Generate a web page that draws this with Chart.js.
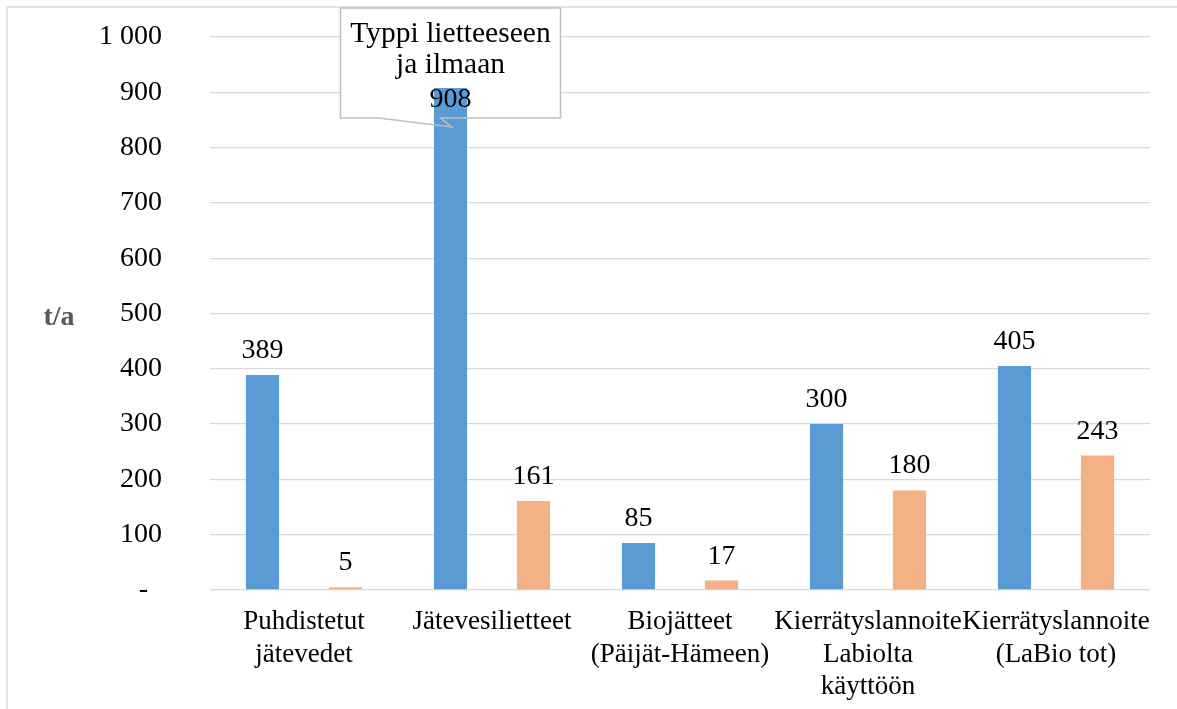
<!DOCTYPE html>
<html>
<head>
<meta charset="utf-8">
<script src="https://cdn.jsdelivr.net/npm/chart.js@4.4.1/dist/chart.umd.min.js"></script>
<style>
  html, body { margin: 0; padding: 0; background: #ffffff; }
  #wrap { position: relative; width: 1177px; height: 709px; }
</style>
</head>
<body>
<div id="wrap"><canvas id="c" width="1177" height="709"></canvas></div>
<script>
// Typpivirrat, t/a
const categories = [
  ['Puhdistetut', 'jätevedet'],
  ['Jätevesilietteet'],
  ['Biojätteet', '(Päijät-Hämeen)'],
  ['Kierrätyslannoite', 'Labiolta', 'käyttöön'],
  ['Kierrätyslannoite', '(LaBio tot)']
];
const seriesBlue = [389, 908, 85, 300, 405];
const seriesOrange = [5, 161, 17, 180, 243];
const yTicks = [0, 100, 200, 300, 400, 500, 600, 700, 800, 900, 1000];
const axisTitle = 't/a';
const calloutLines = ['Typpi lietteeseen', 'ja ilmaan'];

const SERIF = '"Liberation Serif", "Times New Roman", serif';

function fmt(v) {
  if (v === 0) return '-  ';
  return String(v).replace(/\B(?=(\d{3})+(?!\d))/g, ' ');
}

// chart frame, axis title, value labels and the callout box
const decor = {
  id: 'decor',
  beforeDraw(chart) {
    const ctx = chart.ctx;
    ctx.save();
    ctx.strokeStyle = '#d9d9d9';
    ctx.lineWidth = 1.5;
    ctx.beginPath();
    ctx.moveTo(7, 720);
    ctx.lineTo(7, 7);
    ctx.lineTo(1190, 7);
    ctx.stroke();
    ctx.fillStyle = '#595959';
    ctx.font = 'bold 28px ' + SERIF;
    ctx.textAlign = 'center';
    ctx.textBaseline = 'middle';
    ctx.fillText(axisTitle, 59, 318);
    ctx.restore();
  },
  beforeDatasetsDraw(chart) {
    const ctx = chart.ctx;
    const bar = chart.getDatasetMeta(0).data[1];
    ctx.save();
    ctx.fillStyle = '#ffffff';
    ctx.fillRect(bar.x - 110, 8, 220, 110);
    ctx.restore();
  },
  afterDatasetsDraw(chart) {
    const ctx = chart.ctx;
    ctx.save();
    ctx.font = '28px ' + SERIF;
    ctx.fillStyle = '#000000';
    ctx.textAlign = 'center';
    ctx.textBaseline = 'alphabetic';
    chart.data.datasets.forEach((ds, di) => {
      chart.getDatasetMeta(di).data.forEach((el, i) => {
        if (di === 0 && i === 1) return;
        ctx.fillText(fmt(ds.data[i]), el.x, el.y - 17);
      });
    });
    // callout for the largest bar
    const bar = chart.getDatasetMeta(0).data[1];
    const L = bar.x - 110, R = bar.x + 110, T = 8, B = 118;
    const tipX = bar.x + 1, tipY = bar.y + 39;
    ctx.strokeStyle = '#bfbfbf';
    ctx.lineWidth = 1.5;
    ctx.beginPath();
    ctx.moveTo(L, T);
    ctx.lineTo(R, T);
    ctx.lineTo(R, B);
    ctx.lineTo(bar.x - 10, B);
    ctx.lineTo(tipX, tipY);
    ctx.lineTo(L + 38, B);
    ctx.lineTo(L, B);
    ctx.closePath();
    ctx.stroke();
    ctx.font = '29.5px ' + SERIF;
    ctx.fillText(calloutLines[0], bar.x, 42);
    ctx.fillText(calloutLines[1], bar.x, 73);
    ctx.font = '28px ' + SERIF;
    ctx.fillText(fmt(seriesBlue[1]), bar.x, 107);
    ctx.restore();
  }
};

new Chart(document.getElementById('c'), {
  type: 'bar',
  data: {
    labels: categories,
    datasets: [
      { data: seriesBlue, backgroundColor: '#5b9bd5', barPercentage: 0.4, categoryPercentage: 0.883 },
      { data: seriesOrange, backgroundColor: '#f4b183', barPercentage: 0.4, categoryPercentage: 0.883 }
    ]
  },
  options: {
    responsive: false,
    animation: false,
    devicePixelRatio: 1,
    layout: { padding: { top: 37, right: 27, bottom: 0, left: 0 } },
    plugins: { legend: { display: false }, tooltip: { enabled: false } },
    scales: {
      x: {
        grid: { display: false },
        border: { display: false },
        ticks: {
          color: '#000000',
          font: { family: SERIF, size: 27, lineHeight: 1.2 },
          padding: 8,
          maxRotation: 0,
          autoSkip: false
        },
        afterFit(s) {
          s.height = 119;
          s.paddingTop = 0; s.paddingBottom = 0; s.paddingLeft = 0; s.paddingRight = 0;
        }
      },
      y: {
        min: 0,
        max: 1000,
        afterBuildTicks(s) { s.ticks = yTicks.map(v => ({ value: v })); },
        grid: { color: '#d9d9d9', lineWidth: 1.3, drawTicks: false },
        border: { display: false },
        ticks: {
          color: '#000000',
          font: { family: SERIF, size: 28 },
          padding: 48,
          callback: v => fmt(v)
        },
        afterFit(s) {
          s.width = 210;
          s.paddingTop = 0; s.paddingBottom = 0; s.paddingLeft = 0; s.paddingRight = 0;
        }
      }
    }
  },
  plugins: [decor]
});
</script>
</body>
</html>
